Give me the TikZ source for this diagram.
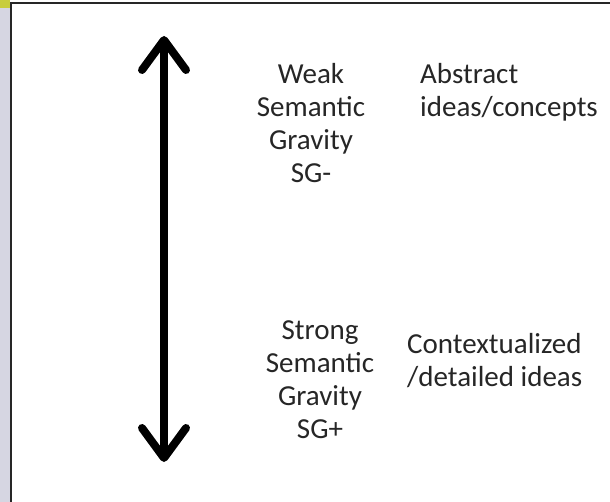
\documentclass[tikz,border=0pt]{standalone}
\usepackage{fontspec}
\setmainfont{Carlito}
\usetikzlibrary{arrows.meta}
\definecolor{stripgray}{RGB}{214,214,226}
\definecolor{cornergreen}{RGB}{200,205,60}
\definecolor{textgray}{RGB}{38,38,38}
\tikzset{
  label text/.style={font=\fontsize{29}{33}\selectfont, text=textgray, inner sep=0pt, anchor=base},
  gravity arrow/.style={line width=8pt, line cap=round,
    {Straight Barb[length=30pt,width=44pt,line width=8pt,round]}-{Straight Barb[length=30pt,width=44pt,line width=8pt,round]}}
}
\begin{document}
\begin{tikzpicture}[x=1pt,y=-1pt]
  \clip (0,0) rectangle (610,502);
  \fill[white] (0,0) rectangle (610,502);
  % slide background at the edges
  \fill[stripgray] (0,0) rectangle (10,502);
  \fill[cornergreen] (0,0) rectangle (10,8);
  \draw[line width=2pt, black!85] (11,520) -- (11,3) -- (620,3);
  % the scale of semantic gravity
  \coordinate (top) at (164,36);
  \coordinate (bottom) at (164,462);
  \draw[gravity arrow] (top) -- (bottom);
  % anchors sit on the baseline of the last line
  \node[label text, align=center] (weak) at (311,183) {Weak\\Semantic\\Gravity\\SG-};
  \node[label text, align=left] (abstract) at (420,117) [anchor=base west] {Abstract\\ideas/concepts};
  \node[label text, align=center] (strong) at (320,438) {Strong\\Semantic\\Gravity\\SG+};
  \node[label text, align=left] (context) at (407,386) [anchor=base west] {Contextualized\\/detailed ideas};
\end{tikzpicture}
\end{document}
